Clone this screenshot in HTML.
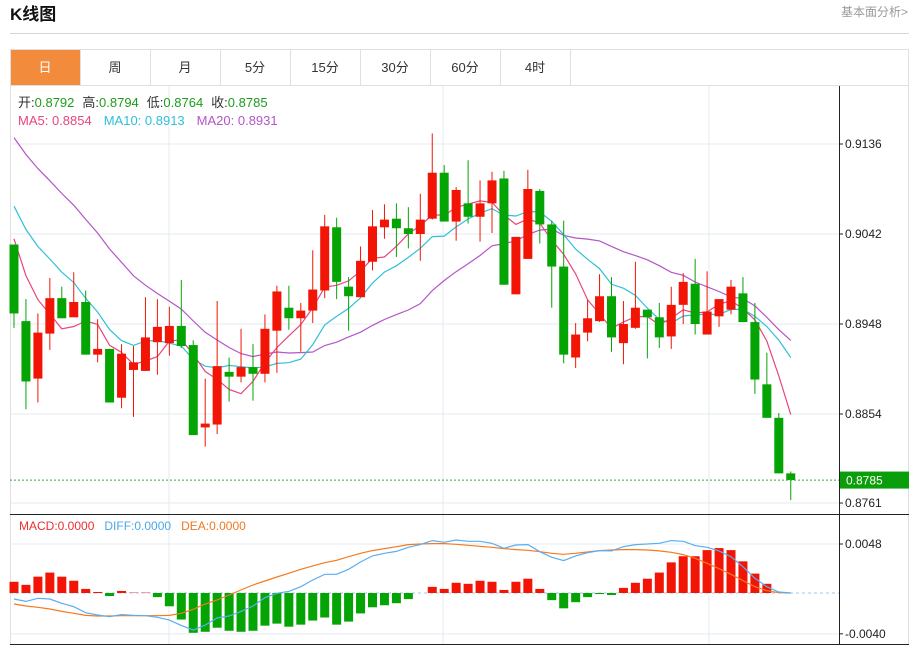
<!DOCTYPE html>
<html><head><meta charset="utf-8"><style>
body{margin:0;background:#fff;width:922px;height:649px;overflow:hidden;font-family:"Liberation Sans","Noto Sans CJK SC",sans-serif}
svg text{font-family:"Liberation Sans","Noto Sans CJK SC",sans-serif}
</style></head><body>
<svg id="c" width="922" height="649" xmlns="http://www.w3.org/2000/svg">
<text x="10" y="20" font-size="17" font-weight="bold" fill="#111">K线图</text>
<text x="908" y="16" font-size="12" fill="#999" text-anchor="end">基本面分析&gt;</text>
<line x1="10" y1="33.5" x2="909" y2="33.5" stroke="#d5d5d5"/>
<rect x="10.5" y="49.5" width="898" height="595" fill="none" stroke="#e0e0e0"/>
<g id="tabs"></g>
<g id="grid"></g><g id="ma"></g><g id="candles"></g><g id="macdg"></g><g id="axes"></g>
<text x="18" y="107" font-size="13"><tspan fill="#333">开:</tspan><tspan fill="#1a9e1a">0.8792</tspan><tspan fill="#333" dx="8">高:</tspan><tspan fill="#1a9e1a">0.8794</tspan><tspan fill="#333" dx="8">低:</tspan><tspan fill="#1a9e1a">0.8764</tspan><tspan fill="#333" dx="8">收:</tspan><tspan fill="#1a9e1a">0.8785</tspan></text>
<text x="18" y="125" font-size="13"><tspan fill="#e8467c">MA5: 0.8854</tspan><tspan fill="#2fc0d8" dx="12">MA10: 0.8913</tspan><tspan fill="#b455c8" dx="12">MA20: 0.8931</tspan></text>
<text x="19" y="530" font-size="12"><tspan fill="#e83030">MACD:0.0000</tspan><tspan fill="#4aa8e8" dx="10">DIFF:0.0000</tspan><tspan fill="#f07820" dx="10">DEA:0.0000</tspan></text>
</svg>
<script>
const tabLabels=["日","周","月","5分","15分","30分","60分","4时"];
const priorCloses=[0.9240,0.9235,0.9228,0.9222,0.9216,0.9212,0.9206,0.9200,0.9195,0.9190,0.9130,0.9118,0.9105,0.9092,0.9080,0.9080,0.9065,0.9050,0.9031];
const opens=[0.9031,0.8951,0.8891,0.8938,0.8975,0.8955,0.8971,0.8916,0.8922,0.8871,0.8900,0.8899,0.8929,0.8928,0.8946,0.8926,0.8840,0.8843,0.8898,0.8893,0.8903,0.8896,0.8941,0.8965,0.8954,0.8962,0.8983,0.9049,0.8987,0.8976,0.9013,0.9049,0.9058,0.9048,0.9042,0.9058,0.9106,0.9055,0.9074,0.9060,0.9074,0.9100,0.8979,0.9016,0.9087,0.9052,0.9008,0.8913,0.8939,0.8951,0.8977,0.8928,0.8944,0.8963,0.8955,0.8935,0.8968,0.8990,0.8937,0.8956,0.8963,0.8980,0.8950,0.8885,0.8850,0.8792];
const highs=[0.9031,0.8974,0.8959,0.8996,0.8987,0.9002,0.8983,0.8953,0.8922,0.8927,0.8925,0.8976,0.8974,0.8966,0.8994,0.8931,0.8891,0.8972,0.8913,0.8943,0.8927,0.8958,0.8988,0.8988,0.8970,0.9025,0.9062,0.9059,0.8997,0.9029,0.9067,0.9073,0.9074,0.9070,0.9084,0.9147,0.9114,0.9091,0.9119,0.9098,0.9107,0.9108,0.9039,0.9109,0.9089,0.9056,0.9056,0.8949,0.8973,0.9000,0.8997,0.8972,0.9013,0.8963,0.8970,0.8987,0.9001,0.9016,0.9003,0.8974,0.8994,0.8997,0.8970,0.8918,0.8855,0.8794];
const lows=[0.8944,0.8859,0.8866,0.8921,0.8954,0.8955,0.8916,0.8908,0.8866,0.8860,0.8851,0.8899,0.8895,0.8915,0.8923,0.8832,0.8820,0.8833,0.8867,0.8887,0.8868,0.8887,0.8897,0.8942,0.8919,0.8949,0.8975,0.8974,0.8941,0.8976,0.9004,0.9037,0.9018,0.9027,0.9014,0.9057,0.9055,0.9035,0.9053,0.9034,0.9043,0.8989,0.8979,0.9016,0.9032,0.8965,0.8907,0.8902,0.8930,0.8950,0.8919,0.8906,0.8943,0.8912,0.8923,0.8922,0.8948,0.8937,0.8937,0.8945,0.8958,0.8950,0.8875,0.8851,0.8792,0.8764];
const closes=[0.8959,0.8888,0.8939,0.8975,0.8954,0.8971,0.8916,0.8922,0.8866,0.8917,0.8908,0.8934,0.8945,0.8946,0.8925,0.8832,0.8844,0.8904,0.8893,0.8903,0.8896,0.8943,0.8982,0.8954,0.8962,0.8984,0.9050,0.8992,0.8977,0.9014,0.9050,0.9057,0.9048,0.9042,0.9057,0.9106,0.9055,0.9088,0.9060,0.9074,0.9098,0.8989,0.9039,0.9089,0.9052,0.9008,0.8916,0.8937,0.8954,0.8977,0.8934,0.8948,0.8965,0.8955,0.8934,0.8968,0.8992,0.8948,0.8961,0.8974,0.8987,0.8950,0.8890,0.8850,0.8792,0.8785];
const priceTicks=[0.9136,0.9042,0.8948,0.8854,0.8761];
const macdBars=[0.0011,0.0008,0.0016,0.0020,0.0016,0.0012,0.0004,0.0001,-0.0003,0.0002,0.0001,0.0001,-0.0004,-0.0013,-0.0026,-0.0039,-0.0038,-0.0034,-0.0037,-0.0038,-0.0037,-0.0032,-0.0030,-0.0033,-0.0031,-0.0027,-0.0024,-0.0031,-0.0028,-0.0020,-0.0014,-0.0012,-0.0010,-0.0006,0,0.0006,0.0004,0.0010,0.0009,0.0012,0.0011,0.0003,0.0011,0.0014,0.0004,-0.0007,-0.0015,-0.0009,-0.0004,-0.0001,-0.0002,0.0005,0.0010,0.0014,0.0020,0.0030,0.0036,0.0036,0.0042,0.0044,0.0042,0.0031,0.0019,0.0009,0,0];
const diffVals=[-0.00059,-0.00082,-0.00052,-0.00059,-0.00101,-0.00134,-0.00193,-0.00216,-0.00232,-0.00212,-0.00219,-0.00222,-0.00238,-0.00265,-0.00317,-0.00363,-0.00314,-0.00245,-0.00225,-0.00180,-0.00127,-0.00046,-0.00003,0.00016,0.00062,0.00127,0.00183,0.00183,0.00232,0.00304,0.00363,0.00389,0.00408,0.00448,0.00474,0.00513,0.00497,0.00519,0.00506,0.00506,0.00487,0.00438,0.00470,0.00474,0.00405,0.00350,0.00317,0.00363,0.00395,0.00415,0.00412,0.00454,0.00474,0.00480,0.00487,0.00513,0.00506,0.00464,0.00448,0.00412,0.00356,0.00258,0.00144,0.00062,0.00010,0];
const deaVals=[-0.00108,-0.00127,-0.00140,-0.00157,-0.00180,-0.00199,-0.00219,-0.00225,-0.00225,-0.00222,-0.00222,-0.00222,-0.00222,-0.00219,-0.00199,-0.00160,-0.00108,-0.00069,-0.00020,0.00029,0.00078,0.00118,0.00157,0.00193,0.00232,0.00265,0.00297,0.00320,0.00356,0.00389,0.00415,0.00435,0.00454,0.00474,0.00480,0.00484,0.00484,0.00477,0.00467,0.00457,0.00448,0.00435,0.00425,0.00418,0.00405,0.00389,0.00379,0.00389,0.00402,0.00415,0.00421,0.00425,0.00425,0.00421,0.00412,0.00399,0.00376,0.00340,0.00291,0.00238,0.00183,0.00121,0.00062,0.00023,0.00003,0];
const macdTicks=[0.0048,-0.0040];
const NS="http://www.w3.org/2000/svg";
function mk(tag,attrs,parent){const e=document.createElementNS(NS,tag);for(const k in attrs)e.setAttribute(k,attrs[k]);parent.appendChild(e);return e;}
const xOf=i=>14+i*11.95;
const yP=p=>144+(0.9136-p)/0.0094*90;
const yM=v=>593-v/0.0048*49;
// tabs
const tabs=document.getElementById('tabs');
tabLabels.forEach((t,i)=>{
  const r=mk('rect',{x:10.5+i*70,y:49.5,width:70,height:36,fill:i===0?'#f28c3c':'#fff',stroke:'#e0e0e0'},tabs);
  
  
  const tx=mk('text',{x:45+i*70,y:72,'font-size':13,'text-anchor':'middle',fill:i===0?'#fff':'#333'},tabs);
  tx.textContent=t;
  
  
});
mk('line',{x1:10,y1:85.5,x2:909,y2:85.5,stroke:'#e0e0e0'},tabs);
// grid
const grid=document.getElementById('grid');
priceTicks.forEach(p=>{const l=mk('line',{x1:10,x2:839,y1:yP(p),y2:yP(p),stroke:'#e4ebf1'},grid);
  
  });
macdTicks.concat([]).forEach(v=>{const l=mk('line',{x1:10,x2:839,y1:yM(v),y2:yM(v),stroke:'#e4ebf1'},grid);
  
  });
[169,443,709].forEach(x=>{const l=mk('line',{x1:x,x2:x,y1:86,y2:644,stroke:'#e4ebf1'},grid);
  
  });
// MA lines
const all=priorCloses.concat(closes);
function ma(n){const out=[];for(let i=0;i<closes.length;i++){let s=0;const j=i+priorCloses.length;for(let k=j-n+1;k<=j;k++)s+=all[k];out.push(s/n);}return out;}
const maG=document.getElementById('ma');
[[20,'#b455c8','ma20-line'],[10,'#2fc0d8','ma10-line'],[5,'#e8467c','ma5-line']].forEach(([n,c,name])=>{
  const v=ma(n);const d=v.map((p,i)=>(i?'L':'M')+xOf(i).toFixed(1)+' '+yP(p).toFixed(1)).join(' ');
  const pa=mk('path',{d:d,fill:'none',stroke:c,'stroke-width':1.2},maG);
  
  
});
// candles
const cg=document.getElementById('candles');
closes.forEach((c,i)=>{
  const o=opens[i],up=c>=o,col=up?'#f21505':'#04a404';const x=xOf(i);
  const g=mk('g',{},cg);
  
  
  mk('line',{x1:x,x2:x,y1:yP(highs[i]),y2:yP(lows[i]),stroke:col,'stroke-width':1},g);
  const top=yP(Math.max(o,c)),bot=yP(Math.min(o,c));
  mk('rect',{x:x-4.5,y:top,width:9,height:Math.max(1,bot-top),fill:col},g);
});
// current price line
const cp=mk('line',{x1:10,x2:839,y1:yP(closes[closes.length-1]),y2:yP(closes[closes.length-1]),stroke:'#3aa83a','stroke-dasharray':'2,2'},cg);


// MACD
const mg=document.getElementById('macdg');
const zl=mk('line',{x1:10,x2:839,y1:593,y2:593,stroke:'#9cc9e8','stroke-dasharray':'3,3'},mg);


macdBars.forEach((v,i)=>{
  if(v===0)return;
  const y0=593,y1=yM(v);const pale=(i===10||i===11);
  const r=mk('rect',{x:xOf(i)-4.5,y:Math.min(y0,y1),width:9,height:Math.abs(y1-y0),fill:v>0?(pale?'#f4a0a0':'#f21505'):'#04a404'},mg);
  
  
});
[[deaVals,'#f57a1f','dea-line'],[diffVals,'#5aaef0','diff-line']].forEach(([arr,c,name])=>{
  const d=arr.map((v,i)=>(i?'L':'M')+xOf(i).toFixed(1)+' '+yM(v).toFixed(1)).join(' ');
  const pa=mk('path',{d:d,fill:'none',stroke:c,'stroke-width':1.2},mg);
  
  
});
// axes
const ax=document.getElementById('axes');
mk('line',{x1:839.5,x2:839.5,y1:86,y2:645,stroke:'#222'},ax);
mk('line',{x1:10,x2:909,y1:514.5,y2:514.5,stroke:'#222'},ax);
mk('line',{x1:10,x2:909,y1:644.5,y2:644.5,stroke:'#222'},ax);
priceTicks.forEach(p=>{const y=yP(p);mk('line',{x1:839,x2:843,y1:y,y2:y,stroke:'#222'},ax);
  const t=mk('text',{x:845,y:y+4,'font-size':12,fill:'#222'},ax);t.textContent=p.toFixed(4);
  
  });
macdTicks.forEach(v=>{const y=yM(v);mk('line',{x1:839,x2:843,y1:y,y2:y,stroke:'#222'},ax);
  const t=mk('text',{x:845,y:y+4,'font-size':12,fill:'#222'},ax);t.textContent=v.toFixed(4);
  
  });
const last=closes[closes.length-1];
const lb=mk('rect',{x:840,y:yP(last)-8.5,width:69,height:17,fill:'#0a9e0a'},ax);


const lt=mk('text',{x:846,y:yP(last)+4.5,'font-size':12,fill:'#fff'},ax);lt.textContent=last.toFixed(4);


</script>
</body></html>
